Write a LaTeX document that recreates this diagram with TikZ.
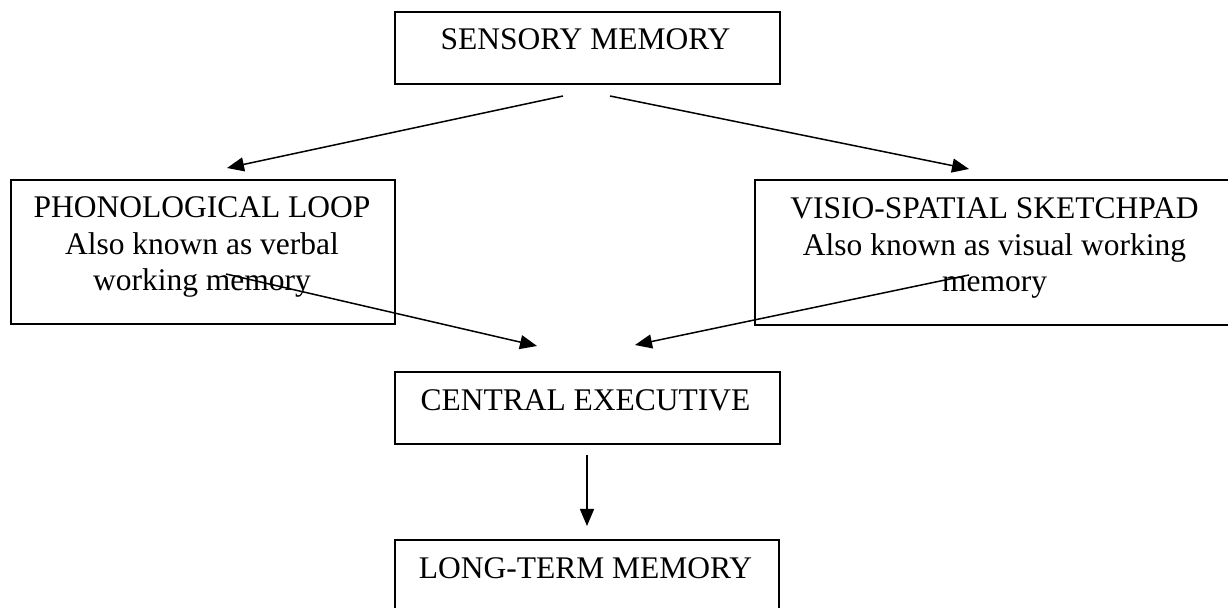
\documentclass[tikz,border=0pt]{standalone}
\usepackage{fontspec}
\setmainfont{Liberation Serif}
\usetikzlibrary{arrows.meta}
\begin{document}
\begin{tikzpicture}[x=0.5pt,y=-0.5pt,
  box/.style={draw=black, line width=1pt, inner sep=0pt, anchor=north west},
  txt/.style={inner sep=0pt, anchor=base, font=\fontsize{15.75}{18.25}\selectfont},
  arr/.style={draw=black, line width=0.75pt, -{Triangle[length=8.5pt,width=7pt]}}
]
\useasboundingbox[fill=white] (0,0) rectangle (1228,608);
% boxes
\node[box, minimum width=192.5pt, minimum height=36pt] (sens) at (393.5,11) {};
\node[box, minimum width=192pt, minimum height=72pt] (phono) at (10,179) {};
\node[box, minimum width=240.5pt, minimum height=72.5pt] (visio) at (754,179) {};
\node[box, minimum width=192.5pt, minimum height=36pt] (cent) at (393.5,371) {};
\node[box, minimum width=192pt, minimum height=36pt] (ltm) at (394,539) {};
% texts
\node[txt] (senst) at (585.5,50) {SENSORY MEMORY};
\node[txt] (phonot) at (202,218) {\begin{tabular}[t]{@{}c@{}}PHONOLOGICAL LOOP\\Also known as verbal\\working memory\end{tabular}};
\node[txt] (visiot) at (994.5,219) {\begin{tabular}[t]{@{}c@{}}VISIO-SPATIAL SKETCHPAD\\Also known as visual working\\memory\end{tabular}};
\node[txt] (centt) at (585.5,411) {CENTRAL EXECUTIVE};
\node[txt] (ltmt) at (585.5,579) {LONG-TERM MEMORY};
% connector ends
\coordinate (s1) at (563,96);
\coordinate (s2) at (610,96);
\coordinate (p1) at (227,168);
\coordinate (v1) at (969,169);
\coordinate (p2) at (226,274);
\coordinate (v2) at (969,275);
\coordinate (c1) at (537,346);
\coordinate (c2) at (635,345);
\coordinate (c3) at (587,455);
\coordinate (l1) at (587,526);
% connectors
\draw[arr] (s1) -- (p1);
\draw[arr] (s2) -- (v1);
\draw[arr] (p2) -- (c1);
\draw[arr] (v2) -- (c2);
\draw[arr] (c3) -- (l1);
\end{tikzpicture}
\end{document}
